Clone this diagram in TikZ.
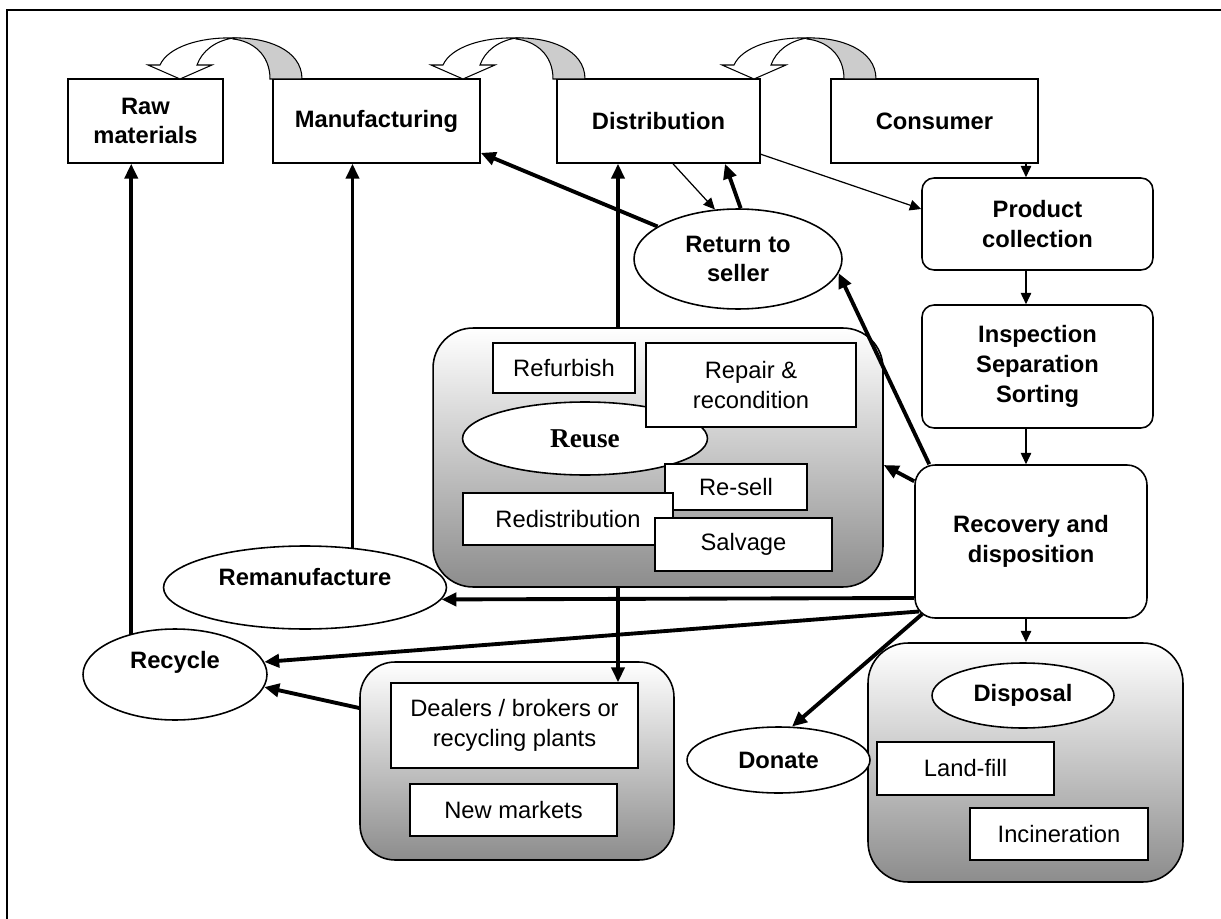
\documentclass[tikz,border=0pt]{standalone}
\usepackage{fontspec}
\setmainfont{Liberation Sans}
\newfontfamily\timesfont{Liberation Serif}
\usepackage{tikz}
\usetikzlibrary{shapes,arrows.meta,positioning}

\newcommand{\boxfont}{\fontsize{13.5}{17}\selectfont}
% curved back-step arrow, tip at #1
\newcommand{\curlarrow}[1]{%
  \begin{scope}[shift={(#1)}, line width=0.6pt]
    \filldraw[fill=gray!40] (53,-41) .. controls (85,-42) and (122,-30) .. (122,0)
      -- (90,0) .. controls (90,-25) and (72,-38) .. (53,-40) -- cycle;
    \filldraw[fill=white] (0,0) -- (-32,-14) -- (-20,-14)
      .. controls (-12,-32) and (20,-42) .. (53,-41)
      .. controls (35,-38) and (22,-28) .. (17,-14) -- (32,-14) -- cycle;
  \end{scope}}

\begin{document}
\begin{tikzpicture}[x=0.02cm, y=-0.02cm,
    box/.style={draw, line width=0.9pt, fill=white, align=center, inner sep=2pt},
    hbox/.style={box, font=\boxfont\bfseries, minimum height=1.68cm},
    sbox/.style={box, font=\boxfont},
    rbox/.style={box, font=\boxfont\bfseries, minimum width=4.62cm},
    grp/.style={draw, line width=0.9pt, rounded corners=0.8cm, top color=white, bottom color=black!45},
    oval/.style={ellipse, draw, line width=0.9pt, fill=white, inner sep=0pt, align=center, font=\boxfont\bfseries},
    flow/.style={line width=0.7pt, -{Triangle[length=6.5pt,width=6pt]}},
    bigflow/.style={line width=2.2pt, -{Triangle[length=8.5pt,width=7.5pt]}}]
    \useasboundingbox (0,0) rectangle (1221,919);
    \draw[line width=0.8pt] (7,919) -- (7,10) -- (1221,10);

    % forward chain
    \node[hbox, minimum width=3.1cm] (raw) at (145.5,121) {Raw\\materials};
    \node[hbox, minimum width=4.14cm] (manu) at (376.5,121) {Manufacturing};
    \node[hbox, minimum width=4.06cm] (dist) at (658.5,121) {Distribution};
    \node[hbox, minimum width=4.14cm] (cons) at (934.5,121) {Consumer};
    \curlarrow{180,79}
    \curlarrow{463,79}
    \curlarrow{754,79}

    % reverse chain
    \node[rbox, rounded corners=0.24cm, minimum height=1.84cm] (prod) at (1037.5,224) {Product\\collection};
    \node[rbox, rounded corners=0.24cm, minimum height=2.46cm] (insp) at (1037.5,366.5) {Inspection\\Separation\\Sorting};
    \node[rbox, rounded corners=0.4cm, minimum width=4.64cm, minimum height=3.06cm] (recov) at (1031,541.5) {Recovery and\\disposition};

    % reuse group
    \node[grp, minimum width=9cm, minimum height=5.18cm] (reuse) at (658,457.5) {};
    \node[sbox, minimum width=2.84cm, minimum height=1cm] (refurb) at (564,368) {Refurbish};
    \node[oval, minimum width=4.9cm, minimum height=1.46cm, font=\fontsize{15.5}{17}\timesfont\bfseries] (reuseov) at (585,438.5) {Reuse};
    \node[sbox, minimum width=4.2cm, minimum height=1.68cm] (repair) at (751,385) {Repair \&\\recondition};
    \node[sbox, minimum width=2.84cm, minimum height=0.92cm] (resell) at (736,487) {Re-sell};
    \node[sbox, minimum width=4.2cm, minimum height=1.04cm] (redist) at (568,519) {Redistribution};
    \node[sbox, minimum width=3.54cm, minimum height=1.06cm] (salv) at (743.5,544.5) {Salvage};

    % dealers group
    \node[grp, rounded corners=0.7cm, minimum width=6.28cm, minimum height=3.96cm] (deal) at (517,761) {};
    \node[sbox, minimum width=4.94cm, minimum height=1.7cm] (dbox) at (514.5,725.5) {Dealers / brokers or\\recycling plants};
    \node[sbox, minimum width=4.14cm, minimum height=1.04cm] (newm) at (513.5,810) {New markets};

    % disposal group
    \node[grp, minimum width=6.3cm, minimum height=4.78cm] (disp) at (1025.5,762.5) {};
    \node[oval, minimum width=3.64cm, minimum height=1.3cm] (dispov) at (1023,695.5) {Disposal};
    \node[sbox, minimum width=3.54cm, minimum height=1.06cm] (land) at (965.5,768.5) {Land-fill};
    \node[sbox, minimum width=3.56cm, minimum height=1.04cm] (incin) at (1059,834) {Incineration};

    % other options
    \node[oval, minimum width=4.16cm, minimum height=2cm] (ret) at (738,259) {Return to\\seller};
    \node[oval, minimum width=5.66cm, minimum height=1.66cm, label={[font=\boxfont\bfseries, yshift=6pt]center:Remanufacture}] (reman) at (305,587.5) {};
    \node[oval, minimum width=3.68cm, minimum height=1.82cm, label={[font=\boxfont\bfseries, yshift=7pt]center:Recycle}] (recyc) at (175,674.5) {};
    \node[oval, minimum width=3.66cm, minimum height=1.32cm] (don) at (778.5,760) {Donate};

    \coordinate (spine) at (1026,0);
    \coordinate (midx) at (618,0);

    % thin connectors
    \draw[flow] (cons.south -| spine) -- (prod.north -| spine);
    \draw[flow] (prod.south -| spine) -- (insp.north -| spine);
    \draw[flow] (insp.south -| spine) -- (recov.north -| spine);
    \draw[flow] (recov.south -| spine) -- (disp.north -| spine);
    \draw[flow] (dist.-18) -- ([yshift=0.3cm]prod.west);
    \draw[flow] ([xshift=0.29cm]dist.south) -- (ret.115);

    % thick connectors
    \draw[bigflow] (ret.87) -- ([xshift=1.33cm]dist.south);
    \draw[bigflow] (ret.158) -- (manu.-17);
    \draw[bigflow] (reuse.north -| midx) -- (dist.south -| midx);
    \draw[bigflow] ([xshift=0.3cm]recov.north west) -- (ret.-8);
    \draw[bigflow] ([yshift=-0.34cm]recov.north west) -- ([yshift=-0.15cm]reuse.east);
    \draw[bigflow] ([yshift=-1.13cm]recov.west) -- (reman.-5);
    \draw[bigflow] ([xshift=0.1cm,yshift=-1.4cm]recov.west) -- (recyc.8);
    \draw[bigflow] ([xshift=0.16cm,yshift=-1.45cm]recov.west) -- (don.68);
    \draw[bigflow] ([yshift=1.06cm]deal.west) -- (recyc.-8);
    \draw[bigflow] (reuse.south -| midx) -- (dbox.north -| midx);
    \draw[bigflow] (recyc.137) -- (recyc.137 |- raw.south);
    \draw[bigflow] (reman.40) -- (reman.40 |- manu.south);
\end{tikzpicture}
\end{document}
